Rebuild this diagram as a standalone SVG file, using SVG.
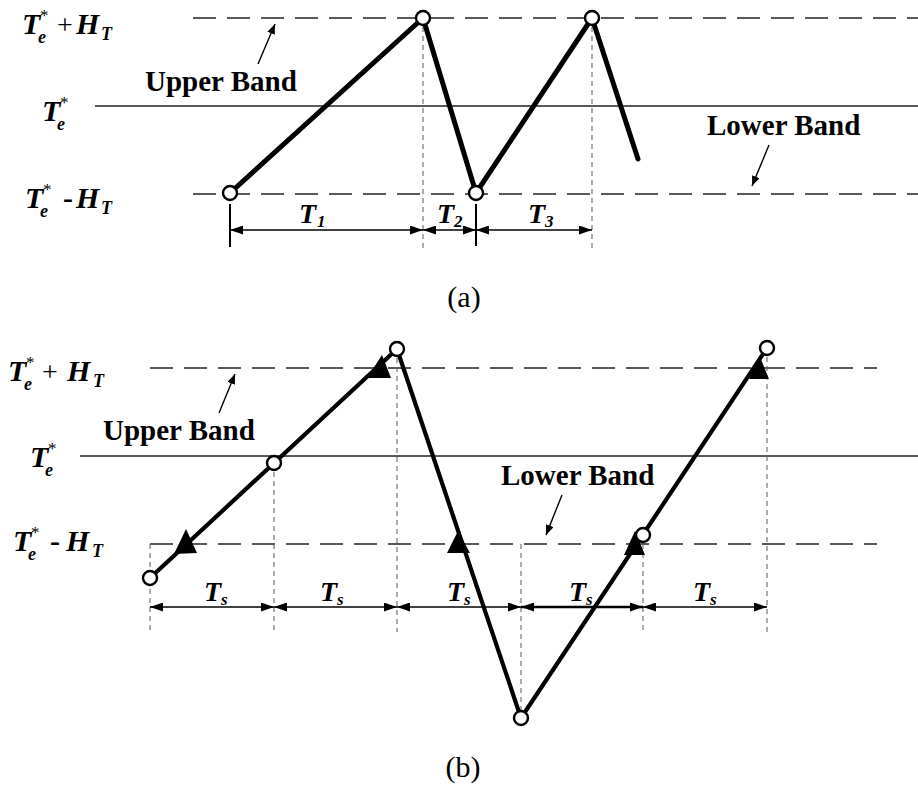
<svg xmlns="http://www.w3.org/2000/svg" width="918" height="794" viewBox="0 0 918 794">
<style>
  text { font-family: "Liberation Serif", "Times New Roman", serif; fill: #000; }
  .mi { font-size: 30px; font-weight: bold; font-style: italic; }
  .sub { font-size: 18px; font-weight: bold; font-style: italic; }
  .sup { font-size: 17px; font-weight: normal; font-style: normal; }
  .op { font-size: 28px; font-weight: normal; font-style: normal; }
  .opb { font-size: 30px; font-weight: bold; font-style: normal; }
  .band { font-size: 29px; font-weight: bold; }
  .dim { font-size: 28px; font-weight: bold; font-style: italic; }
  .dsub { font-size: 17px; }
  .cap { font-size: 30px; }
  .bandline { stroke: #222; stroke-width: 1.6; stroke-dasharray: 23 11; fill: none; }
  .ref { stroke: #222; stroke-width: 1.6; fill: none; }
  .vdash { stroke: #666; stroke-width: 1.1; stroke-dasharray: 5 4; fill: none; }
  .wave { stroke: #000; stroke-width: 5; fill: none; stroke-linejoin: round; stroke-linecap: round; }
  .waveb { stroke: #000; stroke-width: 4.2; fill: none; stroke-linejoin: round; stroke-linecap: round; }
  .pt { fill: #fff; stroke: #000; stroke-width: 2.4; }
  .dimline { stroke: #000; stroke-width: 1.5; fill: none; marker-start: url(#ah); marker-end: url(#ah); }
  .tick { stroke: #000; stroke-width: 2; }
  .leader { stroke: #000; stroke-width: 1.4; fill: none; marker-end: url(#la); }
  .tri { fill: #000; }
</style>
<defs>
  <marker id="ah" markerUnits="userSpaceOnUse" markerWidth="13" markerHeight="9" refX="13" refY="4.5" orient="auto-start-reverse">
    <path d="M0,0 L13,4.5 L0,9 z" fill="#000"/>
  </marker>
  <marker id="la" markerUnits="userSpaceOnUse" markerWidth="10" markerHeight="8" refX="10" refY="4" orient="auto">
    <path d="M0,0 L10,4 L0,8 z" fill="#000"/>
  </marker>
</defs>

<!-- ===== Panel (a) ===== -->
<g id="a-reference-lines">
  <line class="bandline" x1="193" y1="18" x2="918" y2="18"/>
  <line class="ref" x1="95" y1="106" x2="918" y2="106"/>
  <line class="bandline" x1="193" y1="194" x2="918" y2="194"/>
</g>
<g id="a-labels-left">
  <text class="mi"><tspan x="22" y="34">T</tspan><tspan class="sup" x="40" y="21">*</tspan><tspan class="sub" x="38" y="43">e</tspan><tspan class="op" x="57" y="34">+</tspan><tspan x="76" y="34">H</tspan><tspan class="sub" x="101" y="40">T</tspan></text>
  <text class="mi"><tspan x="42" y="121">T</tspan><tspan class="sup" x="60" y="108">*</tspan><tspan class="sub" x="57" y="130">e</tspan></text>
  <text class="mi"><tspan x="25" y="208">T</tspan><tspan class="sup" x="43" y="195">*</tspan><tspan class="sub" x="40" y="217">e</tspan><tspan class="opb" x="63" y="208">-</tspan><tspan x="76" y="208">H</tspan><tspan class="sub" x="101" y="214">T</tspan></text>
</g>
<g id="a-vdash">
  <line class="vdash" x1="423" y1="18" x2="423" y2="248"/>
  <line class="vdash" x1="592" y1="18" x2="592" y2="248"/>
</g>
<g id="a-wave">
  <polyline class="wave" points="230,193 423,18 476,193 592,18 638,159"/>
</g>
<g id="a-points">
  <circle class="pt" cx="230" cy="193" r="7"/>
  <circle class="pt" cx="423" cy="18" r="7"/>
  <circle class="pt" cx="476" cy="193" r="7"/>
  <circle class="pt" cx="592" cy="18" r="7"/>
</g>
<g id="a-dims">
  <line class="tick" x1="230" y1="204" x2="230" y2="247"/>
  <line class="tick" x1="476" y1="204" x2="476" y2="246"/>
  <line class="dimline" x1="230" y1="230" x2="423" y2="230"/>
  <line class="dimline" x1="423" y1="230" x2="476" y2="230"/>
  <line class="dimline" x1="476" y1="230" x2="592" y2="230"/>
  <text class="dim"><tspan x="299" y="223">T</tspan><tspan class="dsub" x="317" y="227">1</tspan></text>
  <text class="dim"><tspan x="437" y="223">T</tspan><tspan class="dsub" x="454" y="227">2</tspan></text>
  <text class="dim"><tspan x="528" y="223">T</tspan><tspan class="dsub" x="545" y="227">3</tspan></text>
</g>
<g id="a-band-labels">
  <text class="band" x="145" y="91">Upper Band</text>
  <line class="leader" x1="258" y1="64" x2="275" y2="24"/>
  <text class="band" x="707" y="135">Lower Band</text>
  <line class="leader" x1="769" y1="145" x2="752" y2="186"/>
</g>
<text id="a-caption" class="cap" x="464" y="307" text-anchor="middle">(a)</text>

<!-- ===== Panel (b) ===== -->
<g id="b-reference-lines">
  <line class="bandline" x1="150" y1="368" x2="877" y2="368"/>
  <line class="ref" x1="80" y1="456" x2="918" y2="456"/>
  <line class="bandline" x1="150" y1="544" x2="877" y2="544"/>
</g>
<g id="b-labels-left">
  <text class="mi"><tspan x="8" y="381">T</tspan><tspan class="sup" x="26" y="368">*</tspan><tspan class="sub" x="24" y="390">e</tspan><tspan class="op" x="42" y="381">+</tspan><tspan x="67" y="381">H</tspan><tspan class="sub" x="93" y="387">T</tspan></text>
  <text class="mi"><tspan x="30" y="467">T</tspan><tspan class="sup" x="48" y="454">*</tspan><tspan class="sub" x="45" y="476">e</tspan></text>
  <text class="mi"><tspan x="13" y="551">T</tspan><tspan class="sup" x="31" y="538">*</tspan><tspan class="sub" x="28" y="560">e</tspan><tspan class="opb" x="50" y="551">-</tspan><tspan x="66" y="551">H</tspan><tspan class="sub" x="92" y="557">T</tspan></text>
</g>
<g id="b-vdash">
  <line class="vdash" x1="150" y1="544" x2="150" y2="632"/>
  <line class="vdash" x1="274" y1="463" x2="274" y2="632"/>
  <line class="vdash" x1="397" y1="349" x2="397" y2="632"/>
  <line class="vdash" x1="521" y1="544" x2="521" y2="718"/>
  <line class="vdash" x1="643" y1="535" x2="643" y2="632"/>
  <line class="vdash" x1="767" y1="348" x2="767" y2="632"/>
</g>
<g id="b-wave">
  <polyline class="waveb" points="150,578 397,349 521,718 767,348"/>
</g>
<g id="b-triangles">
  <polygon class="tri" points="186,529 174,554 197,553"/>
  <polygon class="tri" points="382,355 367,378 391,378"/>
  <polygon class="tri" points="458,531 447,553 470,553"/>
  <polygon class="tri" points="635,531 624,555 645,555"/>
  <polygon class="tri" points="760,357 749,379 769,379"/>
</g>
<g id="b-points">
  <circle class="pt" cx="150" cy="578" r="7"/>
  <circle class="pt" cx="274" cy="463" r="7"/>
  <circle class="pt" cx="397" cy="349" r="7"/>
  <circle class="pt" cx="521" cy="718" r="7"/>
  <circle class="pt" cx="643" cy="535" r="7"/>
  <circle class="pt" cx="767" cy="348" r="7"/>
</g>
<g id="b-dims">
  <line class="dimline" x1="150" y1="607" x2="274" y2="607"/>
  <line class="dimline" x1="274" y1="607" x2="397" y2="607"/>
  <line class="dimline" x1="397" y1="607" x2="521" y2="607"/>
  <line class="dimline" x1="521" y1="607" x2="643" y2="607" style="stroke-width:2.6"/>
  <line class="dimline" x1="643" y1="607" x2="767" y2="607"/>
  <text class="dim"><tspan x="204" y="601">T</tspan><tspan class="dsub" x="221" y="605">s</tspan></text>
  <text class="dim"><tspan x="320" y="601">T</tspan><tspan class="dsub" x="337" y="605">s</tspan></text>
  <text class="dim"><tspan x="447" y="601">T</tspan><tspan class="dsub" x="464" y="605">s</tspan></text>
  <text class="dim"><tspan x="569" y="601">T</tspan><tspan class="dsub" x="586" y="605">s</tspan></text>
  <text class="dim"><tspan x="693" y="601">T</tspan><tspan class="dsub" x="710" y="605">s</tspan></text>
</g>
<g id="b-band-labels">
  <text class="band" x="103" y="440">Upper Band</text>
  <line class="leader" x1="219" y1="413" x2="235" y2="374"/>
  <text class="band" x="501" y="485">Lower Band</text>
  <line class="leader" x1="562" y1="495" x2="546" y2="535"/>
</g>
<text id="b-caption" class="cap" x="463" y="777" text-anchor="middle">(b)</text>
</svg>
